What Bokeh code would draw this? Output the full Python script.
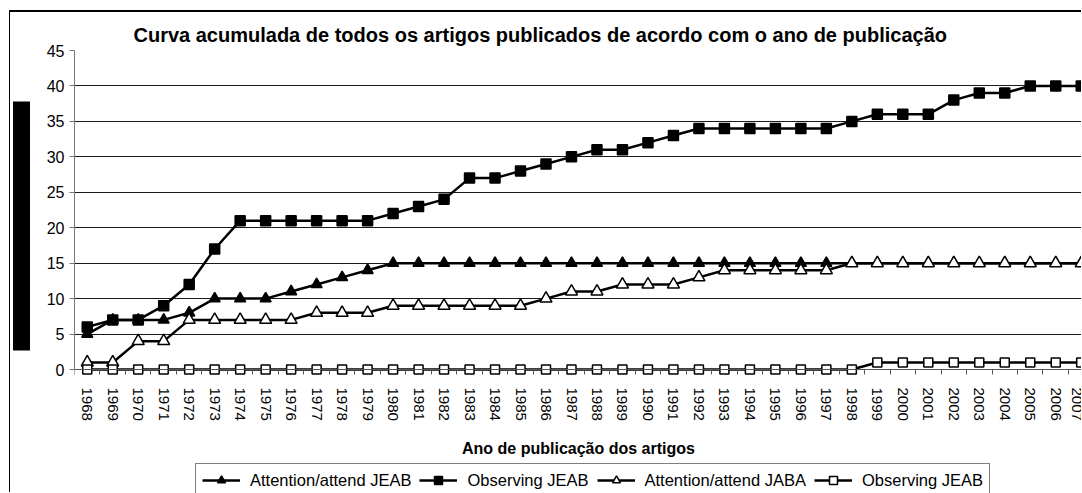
from bokeh.plotting import figure
from bokeh.models import Range1d, FixedTicker, Legend, LegendItem, LinearAxis
from bokeh.embed import file_html
from bokeh.resources import INLINE

# ---------------- data ----------------
title_text = "Curva acumulada de todos os artigos publicados de acordo com o ano de publicação"
x_title = "Ano de publicação dos artigos"
years = list(range(1968, 2008))
year_labels = [str(y) for y in years]
y_ticks = [0, 5, 10, 15, 20, 25, 30, 35, 40, 45]

series_names = ["Attention/attend JEAB", "Observing JEAB",
                "Attention/attend JABA", "Observing JEAB"]
attention_jeab = [5, 7, 7, 7, 8, 10, 10, 10, 11, 12, 13, 14,
                  15, 15, 15, 15, 15, 15, 15, 15, 15, 15, 15, 15, 15, 15, 15, 15,
                  15, 15, 15, 15, 15, 15, 15, 15, 15, 15, 15, 15]
observing_jeab = [6, 7, 7, 9, 12, 17, 21, 21, 21, 21, 21, 21, 22, 23, 24,
                  27, 27, 28, 29, 30, 31, 31, 32, 33, 34, 34, 34, 34, 34, 34,
                  35, 36, 36, 36, 38, 39, 39, 40, 40, 40]
attention_jaba = [1, 1, 4, 4, 7, 7, 7, 7, 7, 8, 8, 8, 9, 9, 9, 9, 9, 9, 10,
                  11, 11, 12, 12, 12, 13, 14, 14, 14, 14, 14,
                  15, 15, 15, 15, 15, 15, 15, 15, 15, 15]
observing_jaba = [0] * 31 + [1] * 9
series_values = [attention_jeab, observing_jeab, attention_jaba, observing_jaba]

# ---------------- styles ----------------
FONT = "Liberation Sans"
markers = ["triangle", "square", "triangle", "square"]
fills = ["black", "black", "white", "white"]
sizes = [11, 10, 12, 9]

W, H = 1072, 481
# the frame runs down to the bottom edge; the x axis sits at y = 0 inside it,
# leaving room below for tick labels, axis caption and legend (cut off as in the original)
p = figure(width=W, height=H,
           x_range=Range1d(years[0] - 0.5, years[-1] + 0.05),
           y_range=Range1d(-17.49, y_ticks[-1]),
           output_backend="svg", toolbar_location=None,
           min_border_left=64, min_border_right=0,
           min_border_top=38, min_border_bottom=0)
p.styles = {"border-left": "1px solid black", "border-top": "1px solid black",
            "box-shadow": "0 -1px 0 0 black",
            "margin-left": "9px", "margin-top": "11px"}
p.outline_line_color = None
p.background_fill_color = "white"
p.border_fill_color = "white"

p.title.text = title_text
p.title.text_font = FONT
p.title.text_font_size = "20px"
p.title.text_font_style = "bold"
p.title.text_color = "black"
p.title.align = "left"
p.title.offset = 59
p.title.standoff = 10

xa = p.xaxis[0]
xa.fixed_location = 0
xa.ticker = FixedTicker(ticks=years,
                        minor_ticks=[y - 0.5 for y in years] + [years[-1] + 0.5])
xa.major_label_overrides = {y: s for y, s in zip(years, year_labels)}
xa.major_label_orientation = "vertical"
xa.major_tick_out = 0
xa.major_tick_in = 0
xa.minor_tick_out = 5
xa.minor_tick_in = 0
xa.major_label_standoff = 13
xa.major_label_text_font = FONT
xa.major_label_text_font_size = "15px"
xa.major_label_text_color = "black"
xa.axis_line_color = "#555555"
xa.minor_tick_line_color = "#555555"
xa.axis_label = x_title
xa.axis_label_text_font = FONT
xa.axis_label_text_font_size = "16px"
xa.axis_label_text_font_style = "bold"
xa.axis_label_text_color = "black"
xa.axis_label_standoff = 16

ya = p.yaxis[0]
ya.ticker = FixedTicker(ticks=y_ticks)
ya.bounds = (y_ticks[0], y_ticks[-1])
ya.major_tick_out = 5
ya.major_tick_in = 0
ya.minor_tick_out = 0
ya.minor_tick_in = 0
ya.major_label_standoff = 5
ya.major_label_text_font = FONT
ya.major_label_text_font_size = "16px"
ya.major_label_text_color = "black"
ya.axis_line_color = "#777777"
ya.major_tick_line_color = "#777777"
# the original's vertical caption is blacked out; keep its room free
ya.axis_label = "\u2003"
ya.axis_label_text_font = FONT
ya.axis_label_text_font_size = "16px"
ya.axis_label_standoff = 2

p.xgrid.visible = False
p.ygrid.ticker = FixedTicker(ticks=y_ticks[1:-1])
p.ygrid.grid_line_color = "#1a1a1a"
p.ygrid.grid_line_width = 1

items = []
for name, vals, mk, fc, sz in zip(series_names, series_values, markers, fills, sizes):
    lr = p.line(years, vals, line_color="black", line_width=2.5)
    sr = p.scatter(years, vals, marker=mk, size=sz, fill_color=fc,
                   line_color="black", line_width=1.5)
    items.append(LegendItem(label=name, renderers=[lr, sr]))

legend = Legend(items=items, orientation="horizontal", location=(121, -4),
                border_line_color="black", border_line_width=1,
                background_fill_color="white", background_fill_alpha=1,
                label_text_font=FONT, label_text_font_size="16.5px",
                label_text_color="black",
                glyph_width=38, glyph_height=20, label_height=20,
                label_standoff=10, spacing=8, padding=6, margin=0)
p.add_layout(legend)

# solid black block that covers the original's vertical caption (drawn as a thick axis rule)
bar = LinearAxis(ticker=FixedTicker(ticks=[]), bounds=(2.7, 37.8),
                 axis_line_width=17, axis_line_color="black", axis_line_cap="butt",
                 major_tick_line_color=None, minor_tick_line_color=None,
                 major_label_text_font_size="0px")
p.add_layout(bar, "left")

open("out.html", "w", encoding="utf-8").write(file_html(p, INLINE))
